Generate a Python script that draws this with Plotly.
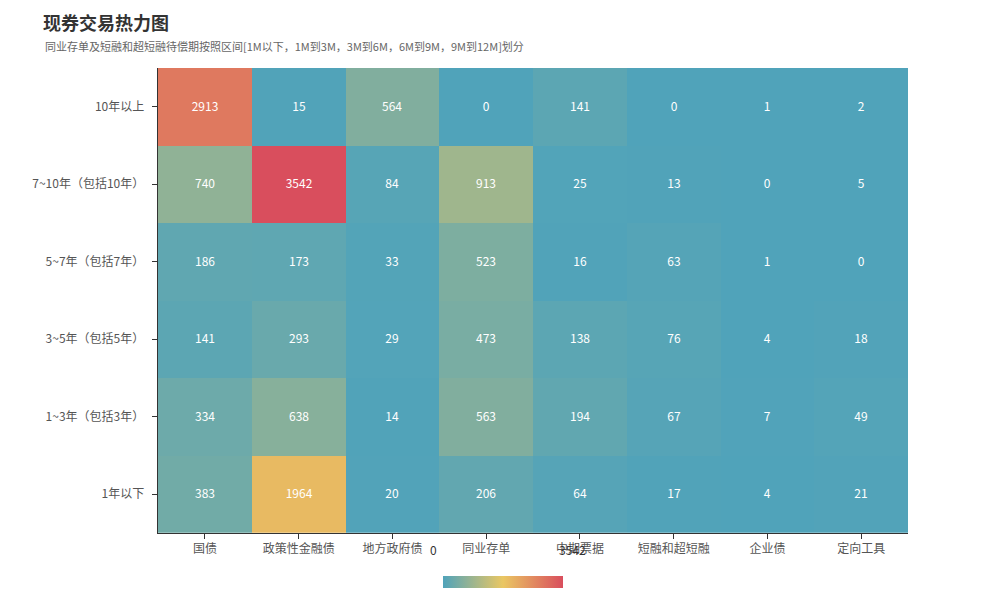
import plotly.graph_objects as go

x_cats = ['国债', '政策性金融债', '地方政府债', '同业存单', '中期票据', '短融和超短融', '企业债', '定向工具']
y_cats = ['1年以下', '1~3年（包括3年）', '3~5年（包括5年）', '5~7年（包括7年）', '7~10年（包括10年）', '10年以上']
z = [
    [383, 1964, 20, 206, 64, 17, 4, 21],
    [334, 638, 14, 563, 194, 67, 7, 49],
    [141, 293, 29, 473, 138, 76, 4, 18],
    [186, 173, 33, 523, 16, 63, 1, 0],
    [740, 3542, 84, 913, 25, 13, 0, 5],
    [2913, 15, 564, 0, 141, 0, 1, 2],
]

scale = [[0, '#50a3ba'], [0.5, '#eac763'], [1, '#d94e5d']]

fig = go.Figure(go.Heatmap(
    x=x_cats, y=y_cats, z=z, zmin=0, zmax=3542, colorscale=scale,
    text=z, texttemplate='%{text}', textfont=dict(color='white', size=12),
    colorbar=dict(orientation='h', x=0.46, xanchor='center', y=0.019, yanchor='middle',
                  len=140, lenmode='pixels', thickness=12, showticklabels=False,
                  outlinewidth=0),
))

fig.update_layout(
    width=1000, height=600, plot_bgcolor='white', paper_bgcolor='white',
    margin=dict(l=150, r=100, t=60, b=10),
    font=dict(family='Noto Sans CJK SC', size=12, color='#555'),
    title=dict(text='<b>现券交易热力图</b>', x=0.035, y=0.985, xanchor='left', yanchor='top',
               pad=dict(l=0), font=dict(size=18, color='#333')),
    annotations=[
        dict(text='同业存单及短融和超短融待偿期按照区间[1M以下，1M到3M，3M到6M，6M到9M，9M到12M]划分',
             xref='paper', yref='paper', x=-0.153, y=1.0415, xanchor='left', yanchor='middle',
             showarrow=False, font=dict(size=11, color='#666')),
        dict(text='0', xref='paper', yref='paper', x=0.367, y=0.062, showarrow=False,
             font=dict(size=12, color='#333')),
        dict(text='3542', xref='paper', yref='paper', x=0.553, y=0.062, showarrow=False,
             font=dict(size=12, color='#333')),
    ],
    xaxis=dict(showline=True, linecolor='#333', ticks='outside', tickcolor='#333', ticklen=5,
               automargin=False),
    yaxis=dict(showline=True, linecolor='#333', ticks='outside', tickcolor='#333', ticklen=5,
               ticksuffix='  ', automargin=False, domain=[0.113, 1]),
)

fig.write_html('out.html')
